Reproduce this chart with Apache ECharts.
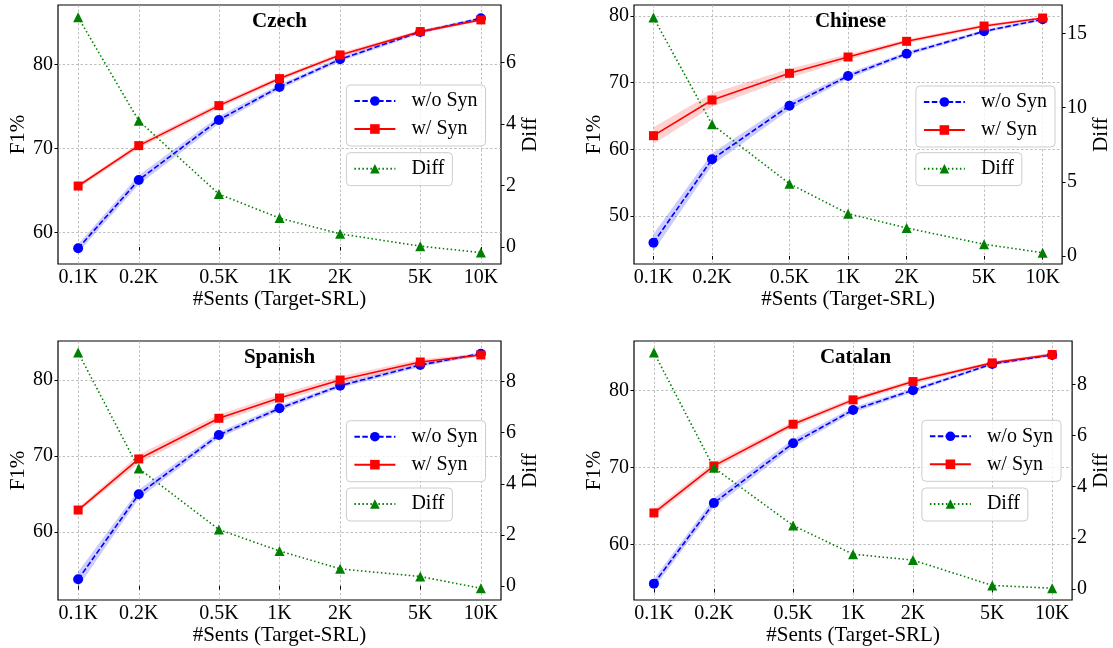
<!DOCTYPE html>
<html>
<head>
<meta charset="utf-8">
<script src="https://cdn.jsdelivr.net/npm/echarts@6/dist/echarts.min.js"></script>
<style>
html,body{margin:0;padding:0;background:#fff;}
#chart{width:1113px;height:648px;}
</style>
</head>
<body>
<div id="chart"></div>
<script>
// ---------------- data ----------------
const sizesK = [0.1, 0.2, 0.5, 1, 2, 5, 10];
const xTickLabels = ['0.1K', '0.2K', '0.5K', '1K', '2K', '5K', '10K'];
const languages = ['Czech', 'Chinese', 'Spanish', 'Catalan'];

const czechWo   = [58.14, 66.26, 73.39, 77.31, 80.59, 83.84, 85.47];
const czechW    = [65.54, 70.34, 75.09, 78.30, 81.11, 83.88, 85.27];
const czechDiff = [7.46, 4.10, 1.72, 0.94, 0.43, 0.03, -0.18];
const czechWoBand = [0.5, 0.55, 0.45, 0.3, 0.25, 0.2, 0.15];
const czechWBand  = [0.25, 0.3, 0.3, 0.25, 0.25, 0.2, 0.15];

const chineseWo   = [46.0, 58.5, 66.55, 71.0, 74.35, 77.7, 79.5];
const chineseW    = [62.05, 67.4, 71.4, 73.85, 76.2, 78.5, 79.7];
const chineseDiff = [16.06, 8.87, 4.87, 2.85, 1.89, 0.79, 0.22];
const chineseWoBand = [1.3, 0.9, 0.6, 0.4, 0.3, 0.25, 0.2];
const chineseWBand  = [1.25, 1.0, 0.7, 0.4, 0.3, 0.25, 0.2];

const spanishWo   = [53.77, 64.96, 72.76, 76.27, 79.25, 81.97, 83.46];
const spanishW    = [62.89, 69.61, 74.96, 77.63, 80.0, 82.37, 83.29];
const spanishDiff = [9.14, 4.6, 2.21, 1.37, 0.67, 0.37, -0.09];
const spanishWoBand = [1.0, 0.6, 0.4, 0.35, 0.3, 0.25, 0.2];
const spanishWBand  = [0.3, 0.55, 0.5, 0.45, 0.45, 0.35, 0.2];

const catalanWo   = [54.88, 65.38, 73.15, 77.48, 80.04, 83.47, 84.64];
const catalanW    = [64.08, 70.2, 75.62, 78.79, 81.17, 83.6, 84.69];
const catalanDiff = [9.24, 4.74, 2.48, 1.36, 1.13, 0.14, 0.03];
const catalanWoBand = [0.6, 0.6, 0.5, 0.35, 0.25, 0.2, 0.2];
const catalanWBand  = [0.45, 0.45, 0.35, 0.3, 0.3, 0.2, 0.2];

const f1Ticks = [[60, 70, 80], [50, 60, 70, 80], [60, 70, 80], [60, 70, 80]];
const diffTicks = [[0, 2, 4, 6], [0, 5, 10, 15], [0, 2, 4, 6, 8], [0, 2, 4, 6, 8]];

// ---------------- layout / style ----------------
const panels = [
  {name: languages[0], wo: czechWo, w: czechW, diff: czechDiff, woBand: czechWoBand, wBand: czechWBand,
   grid: {left: 58, top: 5, width: 443, height: 259}, f1: [56.28, 87.04], df: [-0.55, 7.86],
   leftGap: 29, rightGap: 14, legTop1: 85, legTop2: 152.7, legLeft: 346.4},
  {name: languages[1], wo: chineseWo, w: chineseW, diff: chineseDiff, woBand: chineseWoBand, wBand: chineseWBand,
   grid: {left: 634, top: 5, width: 433, height: 259}, f1: [42.8, 81.65], df: [-0.54, 16.91],
   leftGap: 29, rightGap: 26, legTop1: 86, legTop2: 152.7, legLeft: 915.9},
  {name: languages[2], wo: spanishWo, w: spanishW, diff: spanishDiff, woBand: spanishWoBand, wBand: spanishWBand,
   grid: {left: 58, top: 341, width: 443, height: 259}, f1: [51.05, 85.13], df: [-0.55, 9.59],
   leftGap: 29, rightGap: 15, legTop1: 420.7, legTop2: 488, legLeft: 346.4},
  {name: languages[3], wo: catalanWo, w: catalanW, diff: catalanDiff, woBand: catalanWoBand, wBand: catalanWBand,
   grid: {left: 634, top: 341, width: 443, height: 259}, f1: [52.75, 86.45], df: [-0.43, 9.69],
   leftGap: 29, rightGap: 17, legTop1: 420.3, legTop2: 488, legLeft: 921.9}
];

const FONT = 'Liberation Serif';
const gridLine = {show: true, lineStyle: {color: '#b0b0b0', type: [2.5, 2], width: 0.8}};

function bandRenderer(color) {
  return function (params, api) {
    if (params.dataIndex !== 0) return null;
    const n = params.dataInsideLength;
    const up = [], lo = [];
    for (let j = 0; j < n; j++) {
      up.push(api.coord([api.value(0, j), api.value(2, j)]));
      lo.push(api.coord([api.value(0, j), api.value(1, j)]));
    }
    return {type: 'polygon', shape: {points: up.concat(lo.reverse())}, style: {fill: color}};
  };
}

const grids = [], xAxes = [], yAxes = [], series = [], legends = [], graphics = [];

panels.forEach((p, i) => {
  grids.push(Object.assign({show: true, borderColor: '#000', borderWidth: 1.2, backgroundColor: 'transparent'}, p.grid));
  xAxes.push({
    type: 'log', logBase: 10, gridIndex: i,
    min: Math.pow(10, -1.1), max: Math.pow(10, 1.1),
    name: '#Sents (Target-SRL)', nameLocation: 'middle', nameGap: 24,
    nameTextStyle: {fontFamily: FONT, fontSize: 21, color: '#000'},
    axisLine: {show: false},
    axisTick: {show: true, length: 3.5, lineStyle: {color: '#000'}, customValues: sizesK},
    axisLabel: {customValues: sizesK, margin: 4, fontFamily: FONT, fontSize: 20, color: '#000',
      formatter: v => { const k = sizesK.findIndex(s => Math.abs(s - v) < 1e-9); return k >= 0 ? xTickLabels[k] : ''; }},
    splitLine: gridLine, minorTick: {show: false}, minorSplitLine: {show: false}
  });
  yAxes.push({
    type: 'value', gridIndex: i, position: 'left', min: p.f1[0], max: p.f1[1],
    name: 'F1%', nameLocation: 'middle', nameGap: p.leftGap, nameRotate: 90,
    nameTextStyle: {fontFamily: FONT, fontSize: 21, color: '#000'},
    axisLine: {show: false},
    axisTick: {show: true, length: 3.5, lineStyle: {color: '#000'}, customValues: f1Ticks[i]},
    axisLabel: {customValues: f1Ticks[i], margin: 5, fontFamily: FONT, fontSize: 20, color: '#000'},
    splitLine: gridLine
  });
  yAxes.push({
    type: 'value', gridIndex: i, position: 'right', min: p.df[0], max: p.df[1],
    name: 'Diff', nameLocation: 'middle', nameGap: p.rightGap, nameRotate: 90,
    nameTextStyle: {fontFamily: FONT, fontSize: 21, color: '#000'},
    axisLine: {show: false},
    axisTick: {show: true, length: 3.5, lineStyle: {color: '#000'}, customValues: diffTicks[i]},
    axisLabel: {customValues: diffTicks[i], margin: 5, fontFamily: FONT, fontSize: 20, color: '#000'},
    splitLine: {show: false}
  });
  const yL = i * 2, yR = i * 2 + 1;
  series.push({
    type: 'custom', name: 'band-wo-' + i, xAxisIndex: i, yAxisIndex: yL, z: 1, silent: true,
    renderItem: bandRenderer('rgba(0,0,255,0.2)'), encode: {x: 0, y: [1, 2]},
    data: sizesK.map((s, k) => [s, p.wo[k] - p.woBand[k], p.wo[k] + p.woBand[k]])
  });
  series.push({
    type: 'custom', name: 'band-w-' + i, xAxisIndex: i, yAxisIndex: yL, z: 1, silent: true,
    renderItem: bandRenderer('rgba(255,0,0,0.18)'), encode: {x: 0, y: [1, 2]},
    data: sizesK.map((s, k) => [s, p.w[k] - p.wBand[k], p.w[k] + p.wBand[k]])
  });
  series.push({
    type: 'line', name: 'w/o Syn', xAxisIndex: i, yAxisIndex: yL, z: 3,
    symbol: 'circle', symbolSize: 10, color: '#0000ff',
    lineStyle: {color: '#0000ff', width: 1.6, type: [5.5, 2.4]},
    itemStyle: {color: '#0000ff'},
    data: sizesK.map((s, k) => [s, p.wo[k]])
  });
  series.push({
    type: 'line', name: 'w/ Syn', xAxisIndex: i, yAxisIndex: yL, z: 3,
    symbol: 'rect', symbolSize: 9, color: '#ff0000',
    lineStyle: {color: '#ff0000', width: 1.6, type: 'solid'},
    itemStyle: {color: '#ff0000'},
    data: sizesK.map((s, k) => [s, p.w[k]])
  });
  series.push({
    type: 'line', name: 'Diff', xAxisIndex: i, yAxisIndex: yR, z: 4,
    symbol: 'triangle', symbolSize: 10, color: '#008000',
    lineStyle: {color: '#008000', width: 1.6, type: [1.5, 2.5]},
    itemStyle: {color: '#008000'},
    data: sizesK.map((s, k) => [s, p.diff[k]])
  });
  const legBase = {
    orient: 'vertical', left: p.legLeft, itemWidth: 41, itemHeight: 12, itemGap: 8,
    selectedMode: false, backgroundColor: 'rgba(255,255,255,0.8)', borderColor: '#cccccc',
    borderWidth: 1, borderRadius: 4, padding: [6, 8, 7, 7], z: 10,
    textStyle: {fontFamily: FONT, fontSize: 20, color: '#000', lineHeight: 20, padding: [0, 0, 0, 11]}
  };
  legends.push(Object.assign({}, legBase, {top: p.legTop1, data: ['w/o Syn', 'w/ Syn']}));
  legends.push(Object.assign({}, legBase, {top: p.legTop2, data: ['Diff']}));
  graphics.push({
    type: 'text', x: p.grid.left + p.grid.width / 2, y: p.grid.top + 16.7, z: 100,
    style: {text: p.name, font: 'bold 21px "Liberation Serif"', fill: '#000', textAlign: 'center', textVerticalAlign: 'middle'}
  });
});

const chart = echarts.init(document.getElementById('chart'), null, {renderer: 'canvas'});
chart.setOption({
  animation: false,
  backgroundColor: '#fff',
  grid: grids, xAxis: xAxes, yAxis: yAxes, series: series, legend: legends, graphic: graphics
});
</script>
</body>
</html>
